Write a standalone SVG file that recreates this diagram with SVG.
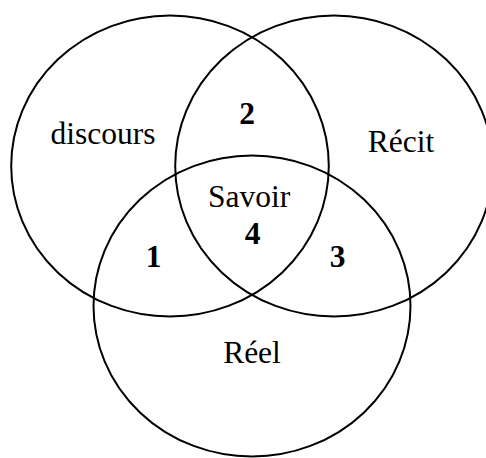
<svg xmlns="http://www.w3.org/2000/svg" width="486" height="458" viewBox="0 0 486 458">
<style>
.c{fill:none;stroke:#000;stroke-width:2}
.t{font-family:"Liberation Serif","Times New Roman",serif;font-size:31.5px;fill:#000;text-anchor:middle}
.b{font-weight:bold}
</style>
<rect width="486" height="458" fill="#fff"/>
<g id="discours">
<ellipse class="c" cx="170" cy="166" rx="158.8" ry="150.5"/>
<text class="t" x="103" y="144">discours</text>
</g>
<g id="recit">
<ellipse class="c" cx="334" cy="166" rx="158.8" ry="150.5"/>
<text class="t" x="401" y="152">Récit</text>
</g>
<g id="reel">
<ellipse class="c" cx="252" cy="306" rx="158.5" ry="150.5"/>
<text class="t" x="252" y="363">Réel</text>
</g>
<g id="savoir">
<text class="t" x="249" y="207">Savoir</text>
<text class="t b" x="252.5" y="244">4</text>
</g>
<g id="zone1"><text class="t b" x="153.5" y="267">1</text></g>
<g id="zone2"><text class="t b" x="247" y="124">2</text></g>
<g id="zone3"><text class="t b" x="337.5" y="267">3</text></g>
</svg>
